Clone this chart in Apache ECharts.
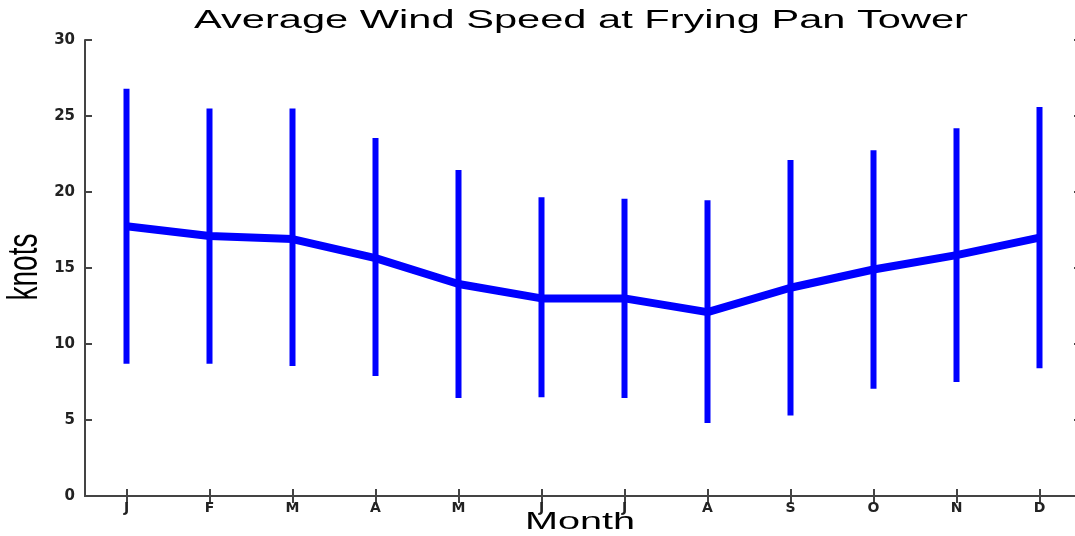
<!DOCTYPE html>
<html><head><meta charset="utf-8">
<script src="https://cdn.jsdelivr.net/npm/echarts/dist/echarts.min.js"></script>
<style>html,body{margin:0;padding:0;background:#fff;overflow:hidden;width:1075px;height:536px}#c{width:1082px;height:536px}</style>
</head><body><div id="c"></div>
<script>
const months = ['J','F','M','A','M','J','J','A','S','O','N','D'];
const meanSpeed = [17.75, 17.1, 16.9, 15.65, 13.95, 13.0, 13.0, 12.1, 13.7, 14.9, 15.85, 17.0];
const upperBar = [26.8, 25.5, 25.5, 23.55, 21.45, 19.65, 19.55, 19.45, 22.1, 22.75, 24.2, 25.6];
const lowerBar = [8.7, 8.7, 8.55, 7.9, 6.45, 6.5, 6.45, 4.8, 5.3, 7.05, 7.5, 8.4];
const titleText = 'Average Wind Speed at Frying Pan Tower';
const xName = 'Month';
const yName = 'knots';

const axisColor = '#444';
const labelStyle = {color: '#222', fontFamily: 'DejaVu Sans', fontWeight: 'bold', fontSize: 14};
const chart = echarts.init(document.getElementById('c'));
chart.setOption({
  animation: false,
  backgroundColor: '#fff',
  grid: {left: 85, top: 40, right: 1, bottom: 40},
  xAxis: [{
    type: 'category', data: months, position: 'bottom',
    axisLine: {show: true, lineStyle: {color: axisColor, width: 2}},
    axisTick: {show: true, inside: true, alignWithLabel: true, length: 7, lineStyle: {color: axisColor, width: 2}},
    axisLabel: Object.assign({margin: 5}, labelStyle),
    splitLine: {show: false}
  }, {
    type: 'category', data: months, position: 'top',
    axisLine: {show: true, lineStyle: {color: axisColor, width: 2}},
    axisTick: {show: true, inside: true, alignWithLabel: true, length: 7, lineStyle: {color: axisColor, width: 2}},
    axisLabel: {show: false},
    splitLine: {show: false}
  }],
  yAxis: [{
    type: 'value', min: 0, max: 30, interval: 5, position: 'left',
    axisLine: {show: true, lineStyle: {color: axisColor, width: 2}},
    axisTick: {show: true, inside: true, length: 7, lineStyle: {color: axisColor, width: 2}},
    axisLabel: Object.assign({margin: 10}, labelStyle, {fontSize: 15}),
    splitLine: {show: false}
  }, {
    type: 'value', min: 0, max: 30, interval: 5, position: 'right',
    axisLine: {show: true, lineStyle: {color: axisColor, width: 2}},
    axisTick: {show: true, inside: true, length: 7, lineStyle: {color: axisColor, width: 2}},
    axisLabel: {show: false},
    splitLine: {show: false}
  }],
  series: [{
    type: 'custom',
    data: months.map((m, i) => [i, lowerBar[i], upperBar[i]]),
    encode: {x: 0, y: [1, 2]},
    renderItem: function (params, api) {
      const x = api.value(0);
      const p1 = api.coord([x, api.value(1)]);
      const p2 = api.coord([x, api.value(2)]);
      return {type: 'line', shape: {x1: p1[0], y1: p1[1], x2: p2[0], y2: p2[1]},
              style: {stroke: '#0000ff', lineWidth: 6}};
    },
    z: 2
  }, {
    type: 'line',
    data: meanSpeed,
    showSymbol: false,
    symbol: 'none',
    lineStyle: {color: '#0000ff', width: 8},
    itemStyle: {color: '#0000ff'},
    z: 3
  }],
  graphic: [{
    type: 'text', x: 581, y: 21, scaleX: 1.6,
    style: {text: titleText, fontSize: 26, fontFamily: 'Liberation Sans', fill: '#000', align: 'center', verticalAlign: 'middle'}
  }, {
    type: 'text', x: 580, y: 522, scaleX: 1.65,
    style: {text: xName, fontSize: 24, fontFamily: 'Liberation Sans', fill: '#000', align: 'center', verticalAlign: 'middle'}
  }, {
    type: 'text', x: 25, y: 267, rotation: Math.PI / 2, scaleY: 1.5,
    style: {text: yName, fontSize: 28, fontFamily: 'Liberation Sans', fill: '#000', align: 'center', verticalAlign: 'middle'}
  }]
});
</script>
</body></html>
